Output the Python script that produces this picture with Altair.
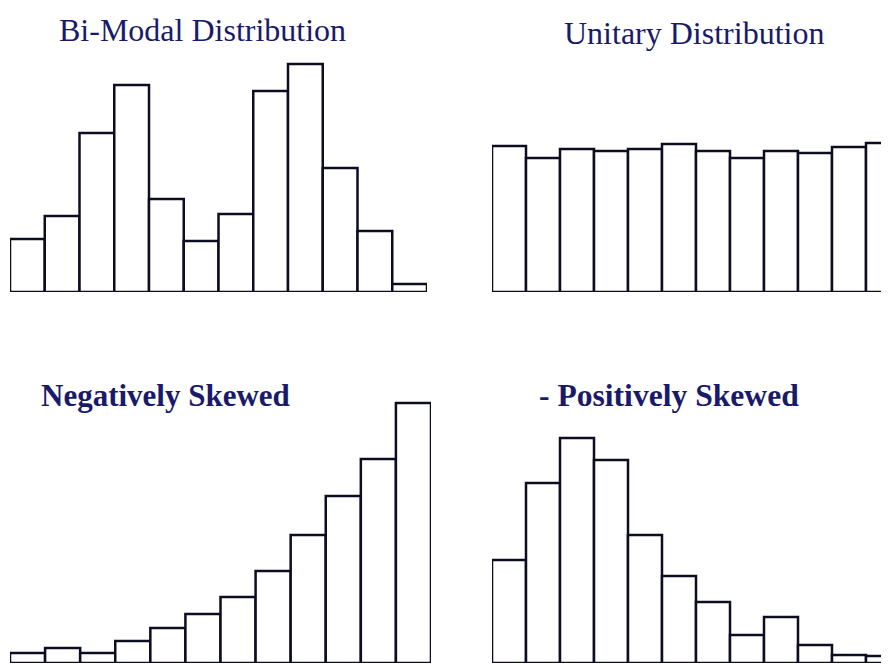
import altair as alt
import pandas as pd

# ---- data (bar heights, arbitrary frequency units) ----
bins = list(range(12))
bimodal = [53, 76, 159, 207, 93, 51, 78, 201, 228, 124, 61, 8]
unitary = [146, 134, 143, 141, 143, 148, 141, 134, 141, 139, 145, 149]
negative = [10, 15, 10, 22, 35, 49, 66, 92, 128, 167, 204, 260]
positive = [103, 180, 225, 203, 128, 87, 61, 28, 46, 18, 8, 7]
titles = ["Bi-Modal Distribution", "Unitary Distribution",
          "Negatively Skewed", "- Positively Skewed"]

NAVY = "#1a1a6b"
INK = "#0d0d22"
H = 280
BAR_PX = 34.0


def panel(values, title, width, nbins, dx, dy, size, weight):
    df = pd.DataFrame({"bin": bins, "freq": values})
    t = alt.TitleParams(
        title, anchor="start", frame="group", dx=dx, dy=dy, offset=0,
        baseline="alphabetic", font="Liberation Serif", fontSize=size,
        fontWeight=weight, color=NAVY,
    )
    return (
        alt.Chart(df, title=t)
        .transform_calculate(end="datum.bin + 1", zero="0")
        .mark_rect(fill="white", stroke=INK, strokeWidth=2.5, strokeJoin="miter", clip=True)
        .encode(
            x=alt.X("bin:Q", scale=alt.Scale(domain=[0, nbins], nice=False, zero=False), axis=None),
            x2="end:Q",
            y=alt.Y("freq:Q", scale=alt.Scale(domain=[0, H], nice=False), axis=None),
            y2="zero:Q",
        )
        .properties(width=width, height=H)
    )


RIGHT_W = 389
p1 = panel(bimodal, titles[0], 417, 12, 49, 61, 32, "normal")
p2 = panel(unitary, titles[1], RIGHT_W, RIGHT_W / BAR_PX, 72, 64, 32, "normal")
p3 = panel(negative, titles[2], 421, 12, 31, 54, 31, "bold")
p4 = panel(positive, titles[3], RIGHT_W, RIGHT_W / BAR_PX, 47, 55, 31.6, "bold")

chart = (
    alt.concat(p1, p2, p3, p4, columns=2, spacing={"row": 91, "column": 61}, bounds="flush")
    .properties(padding={"left": 2, "top": 4, "right": 0, "bottom": 0}, background="white")
    .configure_view(stroke=None)
)

chart.save("out.html", embed_options={"renderer": "svg", "actions": False})
